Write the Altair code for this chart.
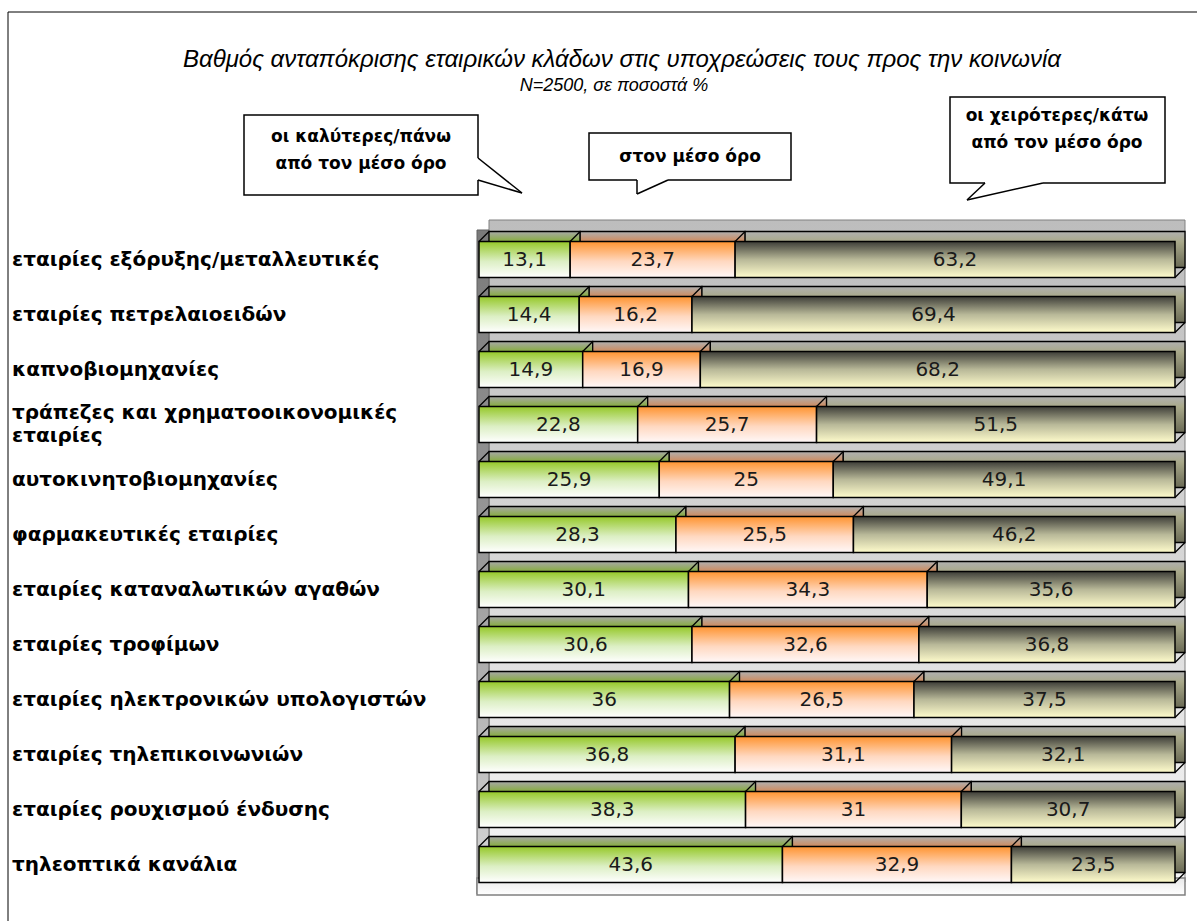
import altair as alt
import pandas as pd

categories = [
    "εταιρίες εξόρυξης/μεταλλευτικές",
    "εταιρίες πετρελαιοειδών",
    "καπνοβιομηχανίες",
    "τράπεζες και χρηματοοικονομικές εταιρίες",
    "αυτοκινητοβιομηχανίες",
    "φαρμακευτικές εταιρίες",
    "εταιρίες καταναλωτικών αγαθών",
    "εταιρίες τροφίμων",
    "εταιρίες ηλεκτρονικών υπολογιστών",
    "εταιρίες τηλεπικοινωνιών",
    "εταιρίες ρουχισμού ένδυσης",
    "τηλεοπτικά κανάλια",
]
# how each category label is broken into lines ("|" marks a line break)
category_labels = [
    "εταιρίες εξόρυξης/μεταλλευτικές",
    "εταιρίες πετρελαιοειδών",
    "καπνοβιομηχανίες",
    "τράπεζες και χρηματοοικονομικές|εταιρίες",
    "αυτοκινητοβιομηχανίες",
    "φαρμακευτικές εταιρίες",
    "εταιρίες καταναλωτικών αγαθών",
    "εταιρίες τροφίμων",
    "εταιρίες ηλεκτρονικών υπολογιστών",
    "εταιρίες τηλεπικοινωνιών",
    "εταιρίες ρουχισμού ένδυσης",
    "τηλεοπτικά κανάλια",
]
better = [13.1, 14.4, 14.9, 22.8, 25.9, 28.3, 30.1, 30.6, 36, 36.8, 38.3, 43.6]
average = [23.7, 16.2, 16.9, 25.7, 25, 25.5, 34.3, 32.6, 26.5, 31.1, 31, 32.9]
worse = [63.2, 69.4, 68.2, 51.5, 49.1, 46.2, 35.6, 36.8, 37.5, 32.1, 30.7, 23.5]
series_names = ["better", "average", "worse"]

title_text = "Βαθμός ανταπόκρισης εταιρικών κλάδων στις υποχρεώσεις τους προς την κοινωνία"
subtitle_text = "N=2500, σε ποσοστά %"
callout_left = ["οι καλύτερες/πάνω", "από τον μέσο όρο"]
callout_mid = ["στον μέσο όρο"]
callout_right = ["οι χειρότερες/κάτω", "από τον μέσο όρο"]


def fmt(v):
    s = ("%g" % v)
    return s.replace(".", ",")


rows = []
for i, c in enumerate(categories):
    start = 0.0
    for s, vals in zip(series_names, [better, average, worse]):
        v = vals[i]
        rows.append(dict(cat=c, series=s, value=v, start=start, end=start + v,
                         mid=start + v / 2, label=fmt(v)))
        start += v
df = pd.DataFrame(rows)
cat_df = pd.DataFrame({"cat": categories, "catlabel": category_labels})
cat_df["wrapped"] = cat_df["catlabel"].str.contains("|", regex=False)

W, H = 696, 660
OX, OY = 479, 232

xs = alt.Scale(domain=[0, 100], nice=False, zero=False)
ys = alt.Scale(domain=categories, paddingInner=0, paddingOuter=0)


def X(f):
    return alt.X(f, type="quantitative", scale=xs, axis=None)


def Y():
    return alt.Y("cat:N", sort=categories, scale=ys, axis=None)


def grad(c0, c1, c2, mid):
    return {"gradient": "linear", "x1": 0, "y1": 0, "x2": 0, "y2": 1,
            "stops": [{"offset": 0, "color": c0}, {"offset": mid, "color": c1},
                      {"offset": 1, "color": c2}]}


# extent of the percentage axis, used for the chart walls
extent = pd.DataFrame({"lo": [0], "hi": [100]})
wall = alt.Chart(extent)
one = alt.Chart(pd.DataFrame({"k": [0]}))

back_wall = wall.mark_rect(fill=grad("#bdbdbd", "#d6d6d6", "#f6f6f6", 0.5),
                           stroke="#808080", strokeWidth=1,
                           xOffset=10, x2Offset=10).encode(
    x=X("lo"), x2="hi", y=alt.value(-12), y2=alt.value(H - 10))
left_wall = wall.mark_rect(fill=grad("#7a7a7a", "#9a9a9a", "#d8d8d8", 0.5),
                           stroke="#606060", strokeWidth=1,
                           xOffset=-2, x2Offset=10).encode(
    x=X("lo"), x2="lo", y=alt.value(-2), y2=alt.value(H + 2))
floor = wall.mark_rect(fill=grad("#e8e8e8", "#f4f4f4", "#ffffff", 0.5),
                       stroke="#808080", strokeWidth=1.5,
                       xOffset=-2, x2Offset=10).encode(
    x=X("lo"), x2="hi", y=alt.value(H - 14), y2=alt.value(H + 3))

front_fill = {
    "better": grad("#95c828", "#dcefc4", "#ffffff", 0.55),
    "average": grad("#ff9430", "#ffd8c0", "#fff8f8", 0.55),
    "worse": grad("#3e3e38", "#b8b898", "#fffccc", 0.5),
}
back_fill = {
    "better": grad("#a8a8a8", "#86ad3c", "#4f6e20", 0.28),
    "average": grad("#b0b0b0", "#d08a5c", "#8a5030", 0.28),
    "worse": grad("#b0b0b0", "#a9a98a", "#6a6a55", 0.28),
}

base = alt.Chart(df)
layers = [back_wall, left_wall, floor]

for s in series_names:
    layers.append(base.transform_filter(alt.datum.series == s).mark_bar(
        size=36, fill=back_fill[s], stroke="black", strokeWidth=1.3,
        xOffset=10, x2Offset=10, yOffset=-10).encode(
        x=X("start"), x2="end", y=Y()))

for s in series_names:
    layers.append(base.transform_filter(alt.datum.series == s).mark_bar(
        size=36, fill=front_fill[s], stroke="black", strokeWidth=1.5).encode(
        x=X("start"), x2="end", y=Y()))

# slanted edges of the 3-D tops
layers.append(base.mark_rule(stroke="black", strokeWidth=1.3,
                             x2Offset=10, yOffset=-18, y2Offset=-28).encode(
    x=X("start"), x2="start", y=Y(), y2="cat:N"))
layers.append(base.transform_filter(alt.datum.series == "worse").mark_rule(
    stroke="black", strokeWidth=1.3, x2Offset=10, yOffset=18, y2Offset=8).encode(
    x=X("end"), x2="end", y=Y(), y2="cat:N"))

layers.append(base.mark_text(font="DejaVu Sans", fontSize=20, color="#1a1a1a").encode(
    x=X("mid"), y=Y(), text="label:N"))

# category labels on the left
label_style = dict(font="DejaVu Sans", fontWeight="bold", fontSize=20, color="black",
                   align="left", baseline="middle", lineBreak="|", lineHeight=23)
labels_src = alt.Chart(cat_df)
layers.append(labels_src.transform_filter("!datum.wrapped").mark_text(**label_style).encode(
    x=alt.value(12 - OX), y=Y(), text="catlabel:N"))
layers.append(labels_src.transform_filter("datum.wrapped").mark_text(dy=-12, **label_style).encode(
    x=alt.value(12 - OX), y=Y(), text="catlabel:N"))

# frame
layers.append(one.mark_rule(color="black", strokeWidth=1).encode(
    x=alt.value(8 - OX), y=alt.value(12 - OY), y2=alt.value(921 - OY + 10)))
layers.append(one.mark_rule(color="black", strokeWidth=1).encode(
    x=alt.value(8 - OX), x2=alt.value(1197 - OX + 10), y=alt.value(12 - OY)))

# title
layers.append(one.mark_text(font="Liberation Sans", fontStyle="italic",
                            fontSize=24, color="black", align="center").encode(
    x=alt.value(622 - OX), y=alt.value(60 - OY), text=alt.value(title_text)))
layers.append(one.mark_text(font="Liberation Sans", fontStyle="italic",
                            fontSize=18, color="black", align="center").encode(
    x=alt.value(614 - OX), y=alt.value(86 - OY), text=alt.value(subtitle_text)))


def callout(x0, y0, x1, y1, lines, tx, ty, tail):
    out = []
    out.append(one.mark_rect(fill="white", stroke="black", strokeWidth=1.5).encode(
        x=alt.value(x0 - OX), x2=alt.value(x1 - OX), y=alt.value(y0 - OY), y2=alt.value(y1 - OY)))
    (ax, ay), (tipx, tipy), (bx, by) = tail
    out.append(one.mark_rule(color="white", strokeWidth=3).encode(
        x=alt.value(ax - OX), x2=alt.value(bx - OX), y=alt.value(ay - OY), y2=alt.value(by - OY)))
    out.append(one.mark_rule(color="black", strokeWidth=1.5).encode(
        x=alt.value(ax - OX), x2=alt.value(tipx - OX), y=alt.value(ay - OY), y2=alt.value(tipy - OY)))
    out.append(one.mark_rule(color="black", strokeWidth=1.5).encode(
        x=alt.value(tipx - OX), x2=alt.value(bx - OX), y=alt.value(tipy - OY), y2=alt.value(by - OY)))
    for k, ln in enumerate(lines):
        out.append(one.mark_text(font="DejaVu Sans", fontWeight="bold", fontSize=17,
                                 color="black", align="center").encode(
            x=alt.value(tx - OX), y=alt.value(ty + 27 * k - OY), text=alt.value(ln)))
    return out


layers += callout(244, 115, 478, 195, callout_left, 361, 137,
                  [(478, 158), (522, 193), (478, 180)])
layers += callout(589, 133, 791, 180, callout_mid, 690, 157,
                  [(637, 180), (637, 194), (668, 180)])
layers += callout(950, 97, 1165, 183, callout_right, 1057, 116,
                  [(985, 183), (967, 200), (1043, 183)])

chart = alt.layer(*layers).properties(
    width=W, height=H,
    autosize=alt.AutoSizeParams(type="none"),
    padding={"left": OX, "top": OY, "right": 1197 - OX - W, "bottom": 921 - OY - H},
    background="white",
).configure_view(stroke=None)

chart.save("out.html", embed_options={"renderer": "svg", "actions": False})
